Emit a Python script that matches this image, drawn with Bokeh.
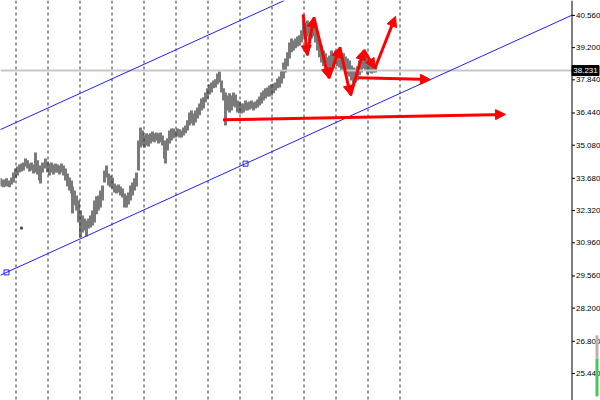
from bokeh.plotting import figure
from bokeh.models import Range1d, Span, Slope, Arrow, NormalHead, BoxAnnotation, ColumnDataSource
from bokeh.core.properties import value
from bokeh.embed import file_html
from bokeh.resources import INLINE

# ---------------- data ----------------
bars = [0, 3, 6, 9, 11, 13, 15, 17, 19, 21, 23, 25, 27, 29, 31, 33, 35, 37, 39, 40,
        42, 45, 47, 49, 51, 53, 55, 57, 59, 61, 63, 65, 67, 69, 71, 72, 74, 76, 78, 80,
        82, 84, 86, 88, 90, 92, 94, 96, 98, 100, 102, 104, 106, 108, 110, 112, 114, 116, 118, 120,
        122, 124, 126, 128, 130, 132, 134, 136, 138, 140, 142, 144, 146, 148, 150, 152, 154, 156, 158, 160,
        162, 164, 165, 167, 169, 171, 173, 175, 177, 179, 181, 183, 185, 187, 189, 191, 193, 195, 197, 199,
        201, 203, 205, 207, 209, 211, 213, 215, 217, 219, 221, 223, 225, 227, 229, 231, 233, 235, 237, 239,
        241, 243, 245, 247, 249, 251, 253, 255, 257, 259, 261, 263, 265, 267, 269, 271, 273, 275, 277, 279,
        281, 283, 285, 287, 289, 291, 293, 295, 297, 299, 301, 303, 305, 307, 309, 311, 313, 315, 317, 319,
        321, 323, 325, 327, 329, 331, 333, 335, 337, 339, 341, 343, 345, 347, 349, 351, 353, 355, 357, 359,
        361, 363, 365, 367, 369, 371, 373, 375]
highs = [33.68, 33.63, 33.68, 33.59, 33.72, 33.93, 34.10, 34.18, 34.27, 34.31, 34.35, 34.52, 34.44, 34.31, 34.35, 34.27, 34.77, 34.44, 34.22, 34.01,
         34.35, 34.52, 34.39, 34.31, 34.35, 34.27, 34.31, 34.27, 34.22, 34.31, 34.22, 34.10, 33.89, 33.72, 33.59, 33.34, 33.17, 32.96, 32.75, 32.32,
         32.11, 31.99, 31.90, 31.99, 32.11, 32.32, 32.75, 32.92, 32.96, 33.17, 33.38, 34.01, 34.22, 33.89, 33.80, 33.72, 33.46, 33.38, 33.42, 33.34,
         33.25, 33.04, 32.96, 33.08, 33.38, 33.51, 33.68, 33.93, 35.28, 35.83, 35.70, 35.49, 35.58, 35.53, 35.58, 35.66, 35.58, 35.62, 35.58, 35.62,
         35.49, 35.28, 35.07, 35.37, 35.70, 35.79, 35.79, 35.70, 35.79, 35.75, 35.70, 35.83, 35.91, 36.13, 36.46, 36.55, 36.42, 36.55, 36.67, 36.84,
         37.05, 37.10, 37.31, 37.48, 37.65, 37.73, 37.81, 37.86, 38.11, 38.19, 37.81, 37.48, 37.31, 37.18, 37.27, 37.18, 37.31, 37.22, 36.97, 36.93,
         36.84, 36.84, 36.97, 36.89, 36.93, 36.97, 36.89, 36.93, 37.01, 37.14, 37.31, 37.39, 37.48, 37.52, 37.60, 37.65, 37.69, 37.73, 37.90, 37.98,
         38.24, 38.57, 38.74, 39.00, 39.42, 39.59, 39.50, 39.59, 39.67, 39.72, 39.93, 40.35, 40.26, 40.35, 40.26, 40.14, 40.22, 40.01, 39.80, 39.50,
         39.29, 39.08, 38.96, 38.79, 38.87, 39.08, 38.96, 39.08, 39.00, 39.08, 38.87, 38.96, 38.83, 38.74, 38.66, 38.45, 38.36, 38.32, 38.41, 38.66,
         38.87, 38.96, 38.87, 38.74, 38.66, 38.57, 38.53, 38.45]
lows = [33.34, 33.30, 33.34, 33.30, 33.42, 33.51, 33.68, 33.80, 33.93, 33.97, 34.01, 34.18, 34.10, 33.97, 34.01, 33.89, 33.93, 33.84, 33.59, 33.46,
        33.93, 34.10, 33.93, 33.80, 33.93, 33.84, 33.93, 33.93, 33.84, 33.93, 33.80, 33.59, 33.34, 33.17, 33.04, 32.20, 32.54, 32.32, 31.82, 31.18,
        31.39, 31.48, 31.23, 31.56, 31.61, 31.69, 31.82, 32.16, 32.32, 32.45, 32.75, 33.51, 33.72, 33.38, 33.30, 33.25, 33.08, 33.04, 33.08, 32.96,
        32.87, 32.45, 32.45, 32.58, 32.75, 32.96, 33.17, 33.34, 34.01, 34.98, 35.07, 34.98, 35.07, 35.03, 35.15, 35.24, 35.20, 35.28, 35.15, 35.20,
        35.07, 34.52, 34.31, 34.86, 35.15, 35.28, 35.37, 35.41, 35.45, 35.41, 35.41, 35.49, 35.58, 35.70, 35.91, 36.00, 35.91, 36.04, 36.21, 36.34,
        36.55, 36.63, 36.89, 37.05, 37.22, 37.31, 37.48, 37.52, 37.65, 37.73, 37.31, 36.97, 35.91, 36.55, 36.46, 36.55, 36.72, 36.67, 36.46, 36.42,
        36.42, 36.46, 36.55, 36.55, 36.59, 36.63, 36.55, 36.63, 36.67, 36.76, 36.84, 36.97, 37.05, 37.14, 37.14, 37.18, 37.27, 37.39, 37.48, 37.52,
        37.69, 37.90, 38.15, 38.41, 38.74, 39.00, 39.08, 39.17, 39.25, 39.29, 39.42, 39.67, 39.59, 39.67, 39.50, 39.59, 39.67, 39.42, 39.08, 38.79,
        38.57, 38.41, 38.24, 38.07, 38.15, 38.41, 38.32, 38.49, 38.41, 38.36, 38.24, 38.32, 38.15, 38.07, 37.98, 37.81, 37.69, 37.73, 37.81, 38.03,
        38.15, 38.32, 38.24, 38.07, 38.15, 38.11, 38.15, 38.15]

stray_bar = [21]
stray_price = [31.58]

# price scale ticks
tick_values = [40.56, 39.20, 37.84, 36.44, 35.08, 33.68, 32.32, 30.96, 29.56, 28.20, 26.80, 25.44]
tick_labels = [f"{v:.3f}" for v in tick_values]
current_price = 38.231

# period separators (bar positions)
separators = [15.5, 47.5, 79.5, 111.5, 143.5, 175.5, 207.5, 239.5, 271.5, 303.5, 335.5, 367.5, 399.5]

# channel anchors (bar, price)
chan_lo_a = (6, 29.71)
chan_lo_b = (245, 34.30)
chan_up_a = (0, 35.74)

# red arrows: zigzag path and two horizontal arrows
zig_bars = [302.7, 306.7, 313.3, 328.3, 339.3, 350.0, 363.3, 374.3, 395.0]
zig_prices = [40.60, 38.87, 40.49, 37.90, 39.22, 37.18, 39.11, 38.31, 40.52]
h_bar0 = [358.0, 222.5]
h_price0 = [37.93, 36.15]
h_bar1 = [430.0, 505.0]
h_price1 = [37.85, 36.38]

# indicator bar at the bottom right of the price scale (levels)
ind_top, ind_mid, ind_bottom = 27.05, 26.07, 24.47

# ---------------- figure ----------------
AXIS_X = 571.5      # where the price scale starts (in bar units)
X_END = 600
Y_LO, Y_HI = 24.30, 41.19

p = figure(width=600, height=400, x_range=Range1d(0, X_END), y_range=Range1d(Y_LO, Y_HI),
           output_backend="svg", toolbar_location=None, x_axis_location=None,
           y_axis_location=None, min_border=0)
p.grid.visible = False
p.outline_line_color = None
p.background_fill_color = "white"
p.border_fill_color = "white"

for s in separators:
    p.add_layout(Span(location=s, dimension="height", line_color="#303030",
                      line_width=1, line_dash="3 3"))

p.add_layout(Span(location=current_price, dimension="width", line_color="#c8c8c8", line_width=2))

# price bars
p.segment(x0=bars, y0=lows, x1=bars, y1=highs, line_color="#7a7a7a", line_width=3)
p.scatter(stray_bar, stray_price, marker="square", size=2, color="#505050")

# channel
grad = (chan_lo_b[1] - chan_lo_a[1]) / (chan_lo_b[0] - chan_lo_a[0])
p.add_layout(Slope(gradient=grad, y_intercept=chan_lo_a[1] - grad * chan_lo_a[0],
                   line_color="#2020ff", line_width=1))
p.add_layout(Slope(gradient=grad, y_intercept=chan_up_a[1] - grad * chan_up_a[0],
                   line_color="#2020ff", line_width=1))
p.scatter([chan_lo_a[0], chan_lo_b[0]], [chan_lo_a[1], chan_lo_b[1]], marker="square",
          size=5, line_color="#2020ff", fill_color="white")

# red arrows
zsrc = ColumnDataSource(dict(x0=zig_bars[:-1], y0=zig_prices[:-1], x1=zig_bars[1:], y1=zig_prices[1:]))
p.add_layout(Arrow(source=zsrc, x_start="x0", y_start="y0", x_end="x1", y_end="y1",
                   line_color="red", line_width=3,
                   end=NormalHead(size=10, fill_color="red", line_color="red")))
hsrc = ColumnDataSource(dict(x0=h_bar0, y0=h_price0, x1=h_bar1, y1=h_price1))
p.add_layout(Arrow(source=hsrc, x_start="x0", y_start="y0", x_end="x1", y_end="y1",
                   line_color="red", line_width=3,
                   end=NormalHead(size=10, fill_color="red", line_color="red")))

# price-scale panel (white background, drawn over lines that run past the scale)
p.add_layout(BoxAnnotation(left=AXIS_X, fill_color="white", fill_alpha=1, line_color=None))
p.add_layout(Span(location=AXIS_X, dimension="height", line_color="black", line_width=1))

FONT = value("Liberation Sans")
n = len(tick_values)
p.segment(x0=[AXIS_X] * n, y0=tick_values, x1=[AXIS_X + 3] * n, y1=tick_values,
          line_color="black", line_width=1, level="overlay")
p.text(x=[AXIS_X + 3] * n, y=tick_values, text=tick_labels, text_font=FONT,
       text_font_size="8px", text_color="black", text_baseline="middle", text_align="left",
       x_offset=1, level="overlay")

# current price marker
p.rect(x=[585], y=[current_price], width=27, height=10, height_units="screen",
       fill_color="black", line_color="black", level="overlay")
p.text(x=[585], y=[current_price], text=[f"{current_price:.3f}"], text_font=FONT,
       text_font_size="8px", text_color="white", text_baseline="middle", text_align="center",
       level="overlay")

# indicator bar
p.quad(left=[595], right=[598], top=[ind_top], bottom=[ind_mid], fill_color="#b4b4b4",
       line_color=None, level="overlay")
p.quad(left=[595], right=[598], top=[ind_mid], bottom=[ind_bottom], fill_color="#3ccc5c",
       line_color=None, level="overlay")

open("out.html", "w").write(file_html(p, INLINE))
